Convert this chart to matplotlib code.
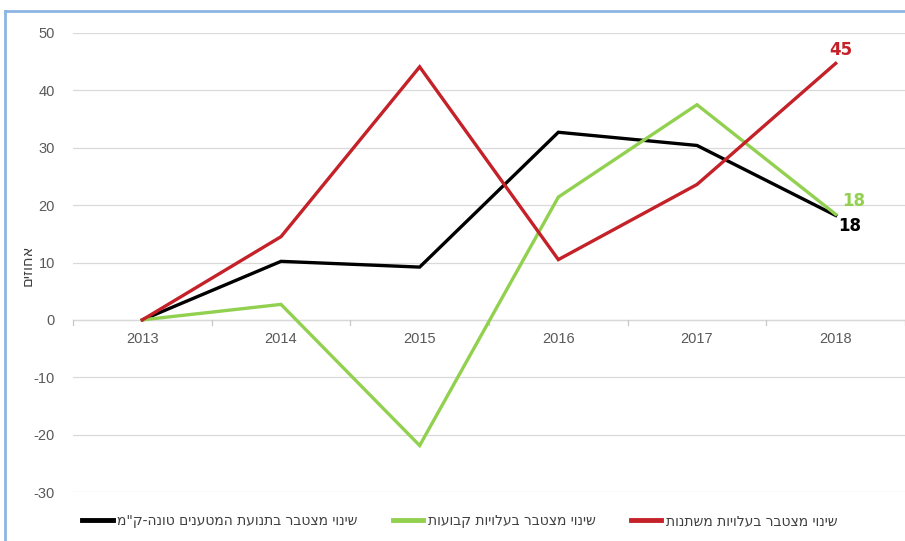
import matplotlib
matplotlib.use("Agg")
import matplotlib.pyplot as plt
from matplotlib.lines import Line2D

years = ["2013", "2014", "2015", "2016", "2017", "2018"]
cargo = [0, 10.2, 9.2, 32.7, 30.4, 18.2]
fixed_costs = [0, 2.7, -21.9, 21.4, 37.5, 18.4]
var_costs = [0, 14.5, 44.1, 10.5, 23.6, 44.7]

names = ['שינוי מצטבר בתנועת המטענים טונה-ק"מ',
         "שינוי מצטבר בעלויות קבועות",
         "שינוי מצטבר בעלויות משתנות"]
colors = ["#000000", "#92D050", "#C42128"]
end_labels = ["18", "18", "45"]

def rtl(s):
  # matplotlib has no bidi support, so flip hebrew by hand
  return s[::-1]

plt.rcParams['font.family'] = ['Liberation Sans', 'DejaVu Sans']
plt.rcParams['axes.unicode_minus'] = False
fig = plt.figure(figsize=(9.05, 5.41), dpi=100)
ax = fig.add_axes([73/905, 49/541, 832/905, 459/541])

x = list(range(len(years)))
series = [cargo, fixed_costs, var_costs]
for vals, c in zip(series, colors):
  ax.plot(x, vals, color=c, lw=2.4, solid_joinstyle='miter', zorder=3)

ax.set_xlim(-0.5, len(years) - 0.5)
ax.set_ylim(-30, 50)
ax.set_yticks(range(-30, 51, 10))
ax.tick_params(axis='y', length=0, pad=13, labelsize=10.5, labelcolor='#595959')
ax.set_xticks([])
ax.grid(axis='y', color='#d9d9d9', lw=0.9, zorder=0)
for s in ax.spines.values():
  s.set_visible(False)
ax.axhline(0, color='#c8c8c8', lw=0.9, zorder=1)

# category labels and boundary ticks on the zero line
for i, yr in enumerate(years):
  ax.text(i, -2.2, yr, ha='center', va='top', fontsize=10.5, color='#595959')
for b in range(len(years) + 1):
  ax.plot([b - 0.5, b - 0.5], [0, -0.9], color='#c8c8c8', lw=0.9, clip_on=False)

ax.set_ylabel(rtl("אחוזים"), fontsize=10.5, color='#404040', family='DejaVu Sans')
ax.yaxis.set_label_coords(-0.046, 0.495)

# end-of-line values
last = len(years) - 1
ax.text(last + 0.04, var_costs[-1] + 2.4, end_labels[2], color=colors[2],
        fontsize=12, fontweight='bold', ha='center', va='center', family='DejaVu Sans')
ax.text(last + 0.13, fixed_costs[-1] + 2.4, end_labels[1], color=colors[1],
        fontsize=12, fontweight='bold', ha='center', va='center', family='DejaVu Sans')
ax.text(last + 0.10, cargo[-1] - 1.9, end_labels[0], color=colors[0],
        fontsize=12, fontweight='bold', ha='center', va='center', family='DejaVu Sans')

handles = [Line2D([], [], color=c, lw=3.5) for c in colors]
fig.legend(handles, [rtl(n) for n in names], loc='center', bbox_to_anchor=(0.508, 20/541),
           ncol=3, frameon=False, handlelength=2.2, handletextpad=0.3,
           columnspacing=2.55, labelcolor='#404040', prop={'family': 'DejaVu Sans', 'size': 10})

# light blue frame of the chart area
fig.add_artist(Line2D([5/905, 5/905], [0, 1 - 11/541], color='#8DB4E2', lw=2))
fig.add_artist(Line2D([5/905, 1], [1 - 11/541, 1 - 11/541], color='#8DB4E2', lw=2))

fig.savefig("out.png", dpi=100)
